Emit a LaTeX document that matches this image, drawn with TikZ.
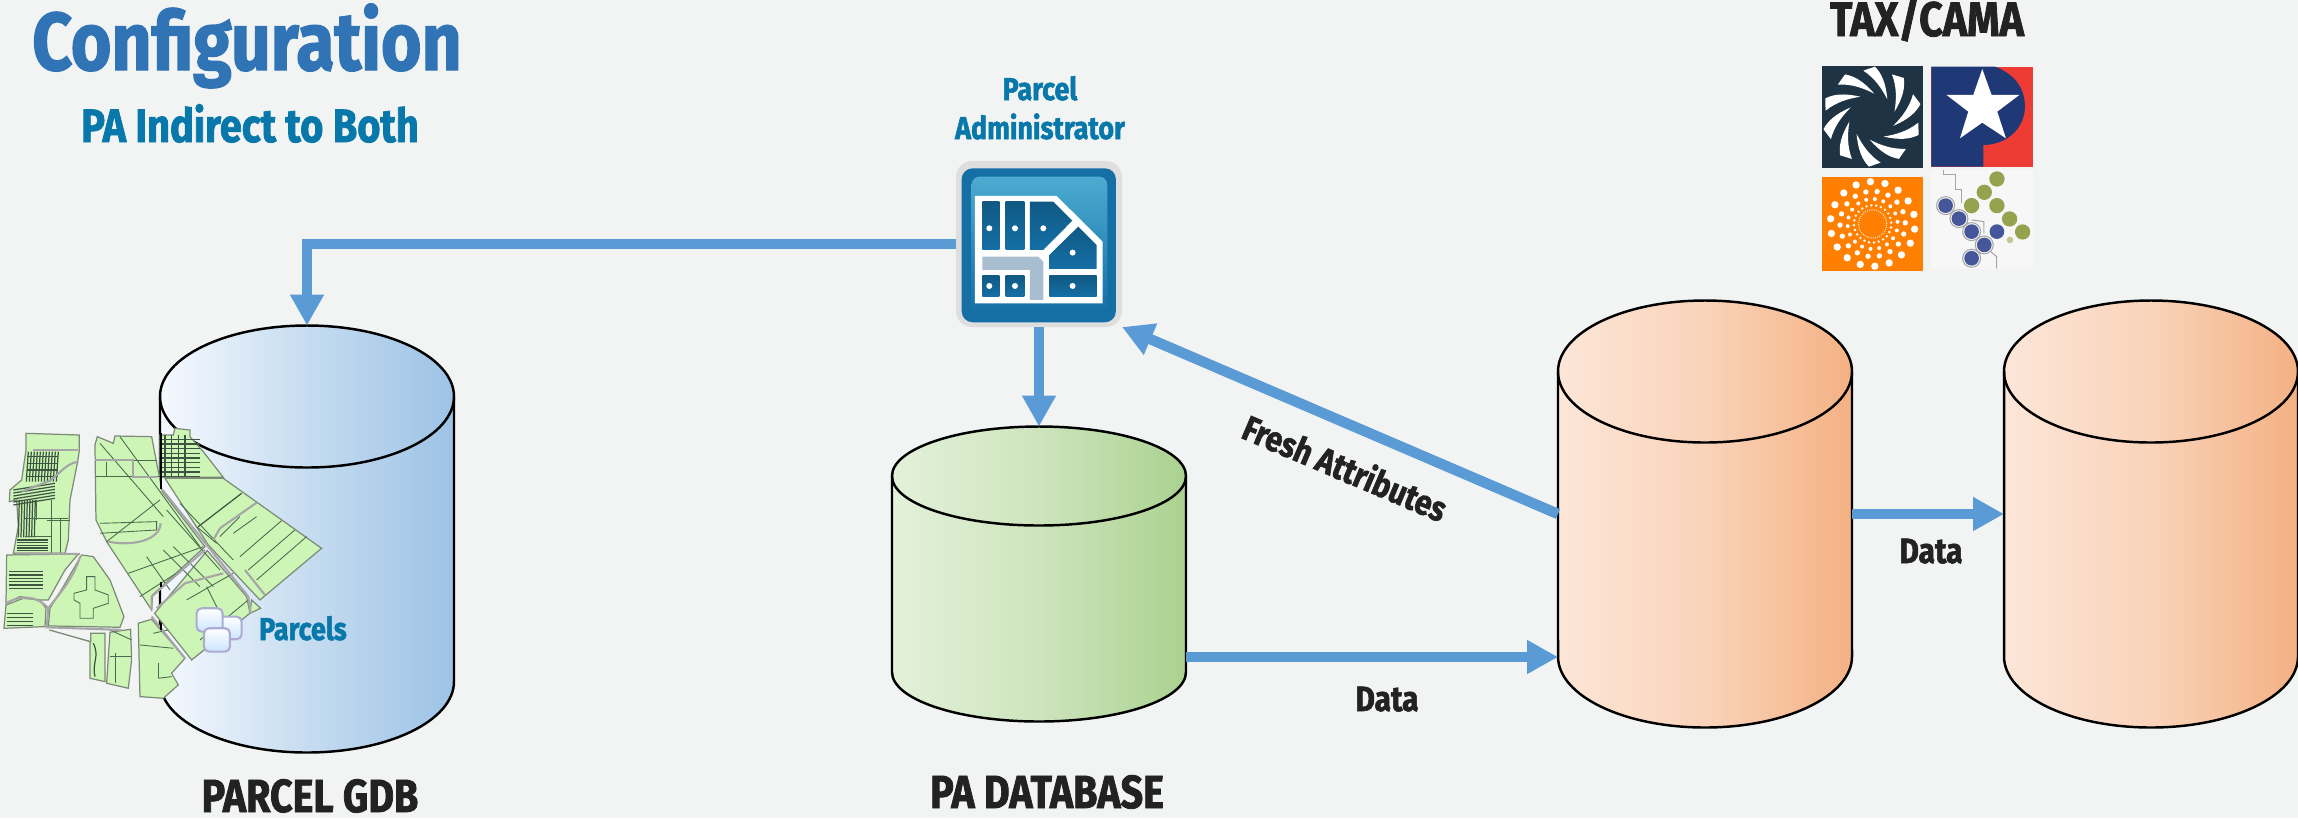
\documentclass[tikz,border=0pt]{standalone}
\usepackage{fontspec}
\setmainfont{Fira Sans}[FakeStretch=0.85,BoldFeatures={FakeBold=1.6}]
\usepackage{xcolor}
\usetikzlibrary{arrows.meta}

\definecolor{pagebg}{HTML}{F2F4F4}
\definecolor{flowblue}{HTML}{5B9BD5}
\definecolor{titleblue}{HTML}{3074B5}
\definecolor{labelblue}{HTML}{0878AA}
\definecolor{inkblack}{HTML}{222222}
\definecolor{mapgreen}{HTML}{CDF6B6}
\definecolor{mapedge}{HTML}{7D8A78}
\definecolor{mapline}{HTML}{4C6A50}
\definecolor{iconblue}{HTML}{156FA5}
\definecolor{iconsky}{HTML}{4BABD0}
\definecolor{iconroad}{HTML}{A9BDD0}
\definecolor{navy}{HTML}{1F3876}
\definecolor{tealdark}{HTML}{1E3343}
\definecolor{logored}{HTML}{EE3B33}
\definecolor{logoorange}{HTML}{FF8000}
\definecolor{olivedot}{HTML}{96A34E}
\definecolor{bluedot}{HTML}{45569A}
\definecolor{gdbleft}{HTML}{F5F9FE}
\definecolor{gdbmid}{HTML}{C6DCF0}
\definecolor{gdbright}{HTML}{9DC3E6}
\definecolor{padbleft}{HTML}{E3F1DA}
\definecolor{padbmid}{HTML}{CDE4BD}
\definecolor{padbright}{HTML}{ABD290}
\definecolor{taxleft}{HTML}{FCE6D8}
\definecolor{taxmid}{HTML}{F9D3BA}
\definecolor{taxright}{HTML}{F4B183}

\tikzset{
  flow/.style={draw=flowblue, line width=1.05mm, -{Triangle[length=3.1mm,width=3.2mm]}},
  gdbfill/.style={left color=gdbleft, right color=gdbright, middle color=gdbmid},
  padbfill/.style={left color=padbleft, right color=padbright, middle color=padbmid},
  taxfill/.style={left color=taxleft, right color=taxright, middle color=taxmid},
  caption/.style={anchor=base, text=inkblack, font=\bfseries\fontsize{13.2}{13.2}\selectfont},
  smallcap/.style={anchor=base, text=inkblack, font=\bfseries\fontsize{10}{10}\selectfont},
  bluecap/.style={anchor=base, text=labelblue, font=\bfseries\fontsize{9}{9}\selectfont},
  mapcell/.style={fill=mapgreen, draw=mapedge, line width=0.35pt},
  mapcut/.style={draw=mapline, line width=0.25pt},
  mapdark/.style={draw=mapline!80!black, line width=0.35pt},
  maproad/.style={draw=gray!70, line width=0.6pt},
  stacktile/.style={draw=blue!30!gray!50, line width=0.6pt, rounded corners=0.5mm, top color=white, bottom color=blue!50!cyan!20!white},
  iconcell/.style={top color=iconblue!80!black, bottom color=iconblue},
  icondot/.style={fill=white}
}

% name, centre x, centre y, half wall, rim radius, fill style
\newcommand{\dbstore}[6]{
  \path[#6, draw=black, line width=0.7pt] (#2-147,#3-#4) arc[start angle=180, end angle=0, x radius=14.7mm, y radius=#5*0.1mm] -- (#2+147,#3+#4) arc[start angle=0, end angle=-180, x radius=14.7mm, y radius=#5*0.1mm] -- cycle;
  \draw[black, line width=0.7pt] (#2-147,#3-#4) arc[start angle=180, end angle=360, x radius=14.7mm, y radius=#5*0.1mm];
  \node[minimum width=29.4mm, minimum height=(#4+#5)*0.2mm, inner sep=0pt, outer sep=0pt] (#1) at (#2,#3) {};
}

\begin{document}
\begin{tikzpicture}[x=0.1mm,y=-0.1mm]
    \path[use as bounding box, fill=pagebg] (0,0) rectangle (2298,818);

    % databases
    \dbstore{gdb}{307}{539}{142.5}{71}{gdbfill}
    \dbstore{padb}{1039}{574}{98}{49.5}{padbfill}
    \dbstore{taxdb}{1705}{514}{142.5}{71}{taxfill}
    \dbstore{camadb}{2151}{514}{142.5}{71}{taxfill}

    % parcel map
    \begin{scope}[yshift=-4cm,x=0.03333mm,y=-0.03333mm]
        \draw[mapcell] (78,100) -- (238,105) -- (238,152) -- (232,190) -- (210,300) -- (205,420) -- (195,460) -- (40,460) -- (55,380) -- (50,300) -- (28,305) -- (30,270) -- (65,240) -- (78,150) -- cycle;
        \draw[mapcell] (20,465) -- (235,462) -- (195,510) -- (145,600) -- (120,600) -- (60,590) -- (18,610) -- cycle;
        \draw[mapcell] (18,615) -- (70,595) -- (120,600) -- (138,625) -- (135,680) -- (12,685) -- cycle;
        \draw[mapcell] (245,465) -- (280,470) -- (330,540) -- (372,650) -- (360,682) -- (145,678) -- (150,625) -- (190,560) -- cycle;
        \draw[mapcell] (148,690) -- (272,725) -- (272,700) -- (315,700) -- (315,845) -- (270,835) -- (270,725) -- cycle;
        \draw[mapcell] (330,697) -- (392,688) -- (395,780) -- (385,865) -- (320,850) -- cycle;
        \draw[mapcell] (415,670) -- (455,658) -- (555,775) -- (515,820) -- (535,855) -- (490,895) -- (420,890) -- cycle;
        \draw[mapcell] (285,135) -- (292,110) -- (340,130) -- (345,108) -- (455,110) -- (480,240) -- (487,275) -- (615,440) -- (458,585) -- (455,630) -- (320,425) -- (288,360) -- cycle;
        \draw[mapcell] (464,640) -- (622,452) -- (740,590) -- (750,640) -- (575,780) -- cycle;
        \draw[mapcell] (495,235) -- (670,235) -- (965,445) -- (780,600) -- (625,435) -- cycle;
        \draw[mapcell] (480,105) -- (520,105) -- (525,85) -- (570,90) -- (570,110) -- (610,155) -- (670,232) -- (480,232) -- cycle;
        \draw[mapcell] (755,600) -- (782,625) -- (750,640) -- cycle;
        % streets
        \foreach \sx in {85,94,...,175} \draw[mapdark] (\sx,155) -- (\sx-6,245);
        \foreach \sy in {170,190,...,230} \draw[mapdark] (80,\sy) -- (175,\sy);
        \foreach \sy in {250,259,...,295} \draw[mapdark] (40,\sy+20) -- (165,\sy);
        \foreach \sx in {58,66,...,106} \draw[mapdark] (\sx,300) -- (\sx-3,412);
        \foreach \sy in {420,428,...,456} \draw[mapdark] (50,\sy) -- (145,\sy);
        \foreach \sy in {515,525,...,565} \draw[mapdark] (28,\sy) -- (130,\sy);
        \foreach \sy in {640,652,...,676} \draw[mapdark] (20,\sy) -- (100,\sy);
        \foreach \sy in {118,132,...,230} \draw[mapdark] (478,\sy) -- (600,\sy);
        \foreach \sx in {495,515,...,555} \draw[mapdark] (\sx,105) -- (\sx,230);
        \draw[mapdark] (280,730) .. controls (300,770) and (275,790) .. (285,830);
        \draw[mapdark] (595,380) -- (725,280);
        % parcel lines
        \foreach \ex/\ey/\fx/\fy in {290/180/470/180, 318/185/318/230, 285/230/480/230, 360/110/600/440, 300/130/490/350, 320/425/480/300, 385/520/610/440, 420/590/560/500, 500/330/660/510, 540/310/700/480, 590/380/650/430, 660/410/720/350, 700/400/770/350, 720/470/845/362, 745/510/885/390, 770/540/920/410, 560/600/700/520, 600/720/745/600, 620/560/660/640, 490/450/600/560, 520/440/640/560, 440/470/510/570, 330/690/395/720, 330/770/392/770, 345/760/345/850, 420/735/520/745, 460/700/505/690, 475/790/475/835, 475/835/515/830, 140/360/210/360, 155/300/155/460, 180/355/180/460, 110/300/110/360, 75/355/205/355, 75/410/155/410} \draw[mapcut] (\ex,\ey) -- (\fx,\fy);
        \draw[mapcut] (260,530) -- (285,530) -- (285,570) -- (325,585) -- (325,610) -- (280,625) -- (280,655) -- (240,655) -- (240,610) -- (222,600) -- (222,580) -- (260,570) -- cycle;
        \draw[mapcut] (300,370) -- (470,365) -- (470,390) -- (300,400);
        % roads
        \draw[maproad] (488,270) -- (745,590) -- (752,640);
        \draw[maproad] (455,630) -- (455,590) -- (615,450);
        \draw[maproad] (470,625) -- (555,550) -- (670,520);
        \draw[maproad] (640,420) -- (660,385) -- (770,308);
        \draw[maproad] (325,425) .. controls (400,440) and (480,420) .. (482,370);
        \draw[maproad] (240,470) .. controls (220,540) and (170,590) .. (145,625) -- (140,682) -- (365,690);
        \draw[maproad] (18,610) .. controls (60,585) and (110,585) .. (145,625);
        \draw[maproad] (455,650) -- (555,775);
        \draw[maproad] (735,510) -- (795,585);
        \draw[maproad] (285,180) -- (400,180) -- (400,232) -- (470,232);
        \draw[maproad] (100,150) -- (235,150);
        \draw[maproad] (50,460) -- (240,462);
        \draw[maproad] (235,185) .. controls (190,190) and (170,240) .. (130,250) -- (65,275);
        % wall seen through the map
        \draw[black, line width=0.6pt] (482,100) -- (482,268);
        \draw[black, line width=0.6pt] (482,545) -- (482,560);
        \draw[black, line width=0.6pt] (482,670) -- (482,690);
        % layer stack
        \draw[stacktile] (650,650) rectangle (725,718);
        \draw[stacktile] (590,625) rectangle (668,695);
        \draw[stacktile] (612,685) rectangle (690,755);
    \end{scope}

    % parcel administrator tile
    \node[fill=black!13, rounded corners=1.6mm, minimum size=16.6mm, inner sep=0pt, outer sep=0pt] (pa) at (1039,244) {};
    \begin{scope}[xshift=9cm,yshift=-0.6cm,x=0.03333mm,y=-0.03333mm]
        \fill[iconblue, rounded corners=1.1mm] (185,325) rectangle (648,787);
        \shade[top color=iconsky, bottom color=iconblue, rounded corners=0.8mm] (215,350) rectangle (622,760);
        \fill[white] (225,408) -- (470,408) -- (608,545) -- (608,730) -- (225,730) -- cycle;
        \shade[iconcell] (247,425) rectangle (298,570);
        \shade[iconcell] (317,425) rectangle (373,570);
        \shade[iconcell] (390,425) -- (460,425) -- (517,482) -- (430,570) -- (390,570) -- cycle;
        \shade[iconcell] (535,500) -- (590,555) -- (590,627) -- (448,627) -- (448,585) -- cycle;
        \shade[iconcell] (247,647) rectangle (298,710);
        \shade[iconcell] (317,647) rectangle (373,710);
        \shade[iconcell] (448,647) rectangle (590,710);
        \fill[iconroad] (247,590) -- (415,590) -- (430,605) -- (430,720) -- (390,720) -- (390,630) -- (247,630) -- cycle;
        \foreach \dx/\dy in {268/505, 345/505, 430/505, 518/578, 268/678, 345/678, 518/678} \fill[icondot] (\dx,\dy) circle (9);
    \end{scope}

    % tax/cama logos
    \begin{scope}[xshift=17.8cm,x=0.03333mm,y=-0.03333mm]
        \fill[tealdark] (126,198) rectangle (429,504);
        \foreach \ang in {0,36,...,324}
            \fill[white, rotate around={\ang:(276,350)}] (322,298) .. controls (318,250) and (305,220) .. (285,200) -- (250,212) .. controls (285,235) and (305,265) .. (322,298) -- cycle;
        \fill[logored] (454,200) rectangle (759,500);
        \fill[navy] (454,200) -- (645,200) .. controls (710,225) and (735,270) .. (735,320) .. controls (735,385) and (680,435) .. (610,435) -- (610,500) -- (454,500) -- cycle;
        \fill[white] (607,207) -- (635,285) -- (718,285) -- (652,335) -- (678,415) -- (607,368) -- (540,415) -- (565,335) -- (500,285) -- (580,285) -- cycle;
        \fill[logoorange] (126,531) rectangle (429,813);
        \foreach \rr/\nn/\dd in {127/18/11, 98/18/8, 75/18/6, 56/24/4, 42/40/2}
            \foreach \k in {1,...,\nn}
                \fill[white] ({278+\rr*cos(360*\k/\nn+\rr)},{672+\rr*sin(360*\k/\nn+\rr)}) circle (\dd);
        \fill[black!3] (454,510) rectangle (759,806);
        \draw[gray!70, line width=0.3pt] (490,510) -- (490,525) -- (527,525) -- (527,570) -- (545,570) -- (545,610);
        \draw[gray!70, line width=0.3pt] (575,660) -- (612,665) -- (612,700);
        \draw[gray!70, line width=0.3pt] (632,755) -- (650,770) -- (650,806);
        \foreach \bx/\by in {497/617, 537/656, 575/695, 613/735, 575/775}
            \draw[gray!70, line width=0.3pt] (\bx,\by) circle (27);
        \foreach \gx/\gy in {651/537, 613/577, 575/617, 651/617, 689/657, 728/696} \fill[olivedot] (\gx,\gy) circle (23);
        \fill[olivedot!60!white] (690,720) circle (10);
        \foreach \bx/\by in {497/617, 537/656, 575/695, 651/695, 613/735, 575/775} \fill[bluedot] (\bx,\by) circle (22);
    \end{scope}

    % connectors
    \coordinate (padbout) at (1186,657);
    \coordinate (taxin) at (1558,657);
    \draw[flow] (pa.west) -| (gdb.north);
    \draw[flow] (pa.south) -- (padb.north);
    \draw[flow] (taxdb.west) -- (pa.south east);
    \draw[flow] (padbout) -- (taxin);
    \draw[flow] (taxdb.east) -- (camadb.west);

    % labels
    \node[anchor=base, text=titleblue, font=\bfseries\fontsize{23.3}{23.3}\selectfont] (title) at (247,70) {Configuration};
    \node[anchor=base, text=labelblue, font=\bfseries\fontsize{13.3}{13.3}\selectfont] (subtitle) at (250,142) {PA Indirect to Both};
    \node[bluecap] (paname) at (1040,100) {Parcel};
    \node[bluecap] (paname2) at (1040,139) {Administrator};
    \node[bluecap] (parcels) at (303,640) {Parcels};
    \node[caption, font=\bfseries\fontsize{13.8}{13.8}\selectfont] (taxname) at (1927,36) {TAX/CAMA};
    \node[caption] (gdbname) at (310,812) {PARCEL GDB};
    \node[caption] (padbname) at (1047,808) {PA DATABASE};
    \node[smallcap] (data1) at (1387,711) {Data};
    \node[smallcap] (data2) at (1931,563) {Data};
    \node[smallcap, rotate=-23] (fresh) at (1340,480) {Fresh Attributes};
\end{tikzpicture}
\end{document}
